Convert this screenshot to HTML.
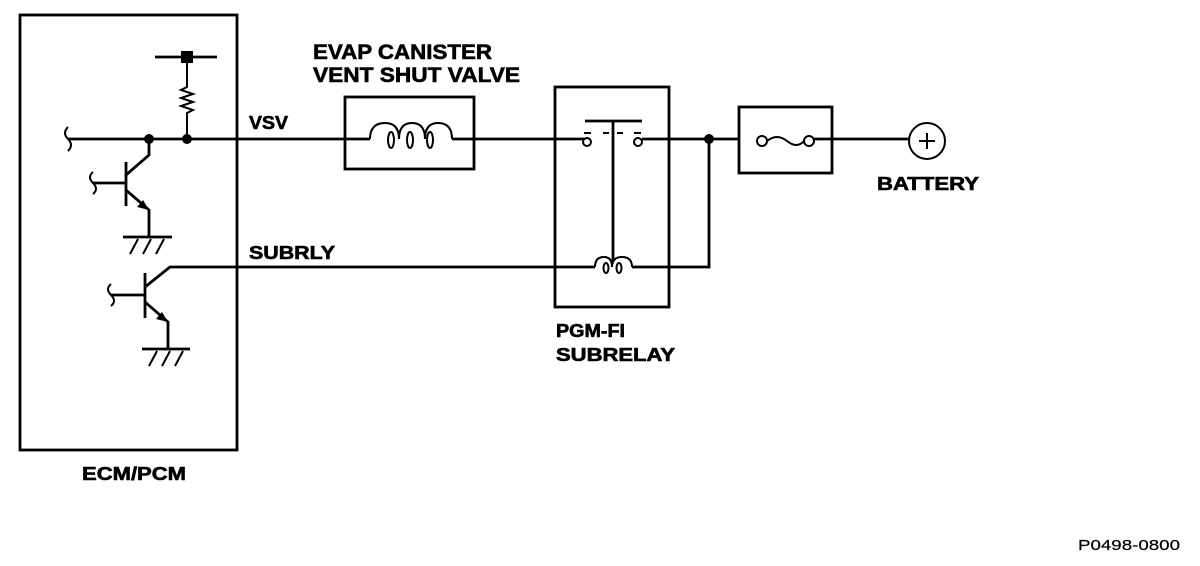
<!DOCTYPE html>
<html><head><style>body{margin:0;background:#fff}svg{display:block}text{font-family:"Liberation Sans",Arial,sans-serif;font-weight:bold;fill:#000;stroke:#000;stroke-width:0.6}</style></head>
<body>
<svg width="1200" height="566" viewBox="0 0 1200 566" xmlns="http://www.w3.org/2000/svg">
<g stroke="#000" stroke-width="2.8" fill="none">
<rect x="20" y="15" width="217" height="435"/>
<line x1="68" y1="139" x2="345" y2="139"/>
<path d="M68 127 q-6 6 0 12 q6 6 0 12" stroke-width="2"/>
<line x1="155" y1="57" x2="217" y2="57"/>
<path d="M187 57 V87 l-6 3 l12 4 l-12 4 l12 4 l-12 4 l12 4 l-6 3 V139" stroke-width="2"/>
<line x1="126" y1="162" x2="126" y2="206"/>
<line x1="93" y1="183" x2="126" y2="183"/>
<path d="M93 172 q-6 5 0 11 q6 6 0 11" stroke-width="2"/>
<path d="M126 175 L149 155 V139"/>
<path d="M126 190 L149 210 V237"/>
<line x1="123" y1="237" x2="172" y2="237"/>
<path d="M130 254 l8 -15 M143 254 l8 -15 M156 254 l8 -15" stroke-width="2"/>
<line x1="145" y1="273" x2="145" y2="318"/>
<line x1="111" y1="295" x2="145" y2="295"/>
<path d="M111 284 q-6 5 0 11 q6 6 0 11" stroke-width="2"/>
<path d="M145 287 L170 267 H595"/>
<path d="M145 302 L168 322 V349"/>
<line x1="142" y1="349" x2="190" y2="349"/>
<path d="M149 366 l8 -15 M162 366 l8 -15 M175 366 l8 -15" stroke-width="2"/>
<rect x="345" y="97" width="129" height="72"/>
<path d="M370 139 q0 -16 15 -16 q14 0 14 16 q0 -16 13 -16 q13 0 13 16 q0 -16 13 -16 q14 0 14 16" stroke-width="2"/>
<ellipse cx="391" cy="140" rx="3" ry="8" stroke-width="2"/>
<ellipse cx="410" cy="140" rx="3" ry="8" stroke-width="2"/>
<ellipse cx="430" cy="140" rx="3" ry="8" stroke-width="2"/>
<line x1="370" y1="139" x2="345" y2="139"/>
<line x1="452" y1="139" x2="584" y2="139"/>
<rect x="555" y="87" width="114" height="220"/>
<circle cx="587" cy="142" r="4" stroke-width="2"/>
<circle cx="638" cy="142" r="4" stroke-width="2"/>
<line x1="585" y1="121" x2="642" y2="121"/>
<line x1="613" y1="121" x2="613" y2="262"/>
<path d="M584 133 h7 M603 133 h6 M617 133 h6 M634 133 h7" stroke-width="2"/>
<line x1="642" y1="139" x2="739" y2="139"/>
<path d="M595 267 q0 -10 9 -10 q8 0 8 10 q0 -10 10 -10 q10 0 10 10" stroke-width="2"/>
<ellipse cx="606" cy="268" rx="2.5" ry="5" stroke-width="2"/>
<ellipse cx="619" cy="268" rx="2.5" ry="5" stroke-width="2"/>
<path d="M632 267 H709 V139"/>
<rect x="739" y="107" width="93" height="66"/>
<circle cx="762" cy="141" r="5" stroke-width="2"/>
<circle cx="809" cy="141" r="5" stroke-width="2"/>
<path d="M767 141 q10 -8 20 0 q10 8 17 0" stroke-width="2"/>
<line x1="814" y1="139" x2="909" y2="139"/>
<circle cx="927" cy="141" r="18" stroke-width="2"/>
<path d="M919 141 h16 M927 133 v16" stroke-width="2"/>
</g>
<g fill="#000">
<circle cx="149" cy="139" r="5"/>
<circle cx="187" cy="139" r="5"/>
<rect x="181" y="51" width="12" height="12"/>
<circle cx="709" cy="139" r="5"/>
<path d="M149 210 l-12 -3 l6 -7 z"/>
<path d="M168 322 l-12 -3 l6 -7 z"/>
</g>
<text x="313" y="59" font-size="21" textLength="179" lengthAdjust="spacingAndGlyphs">EVAP CANISTER</text>
<text x="313" y="82" font-size="21" textLength="207" lengthAdjust="spacingAndGlyphs">VENT SHUT VALVE</text>
<text x="249" y="129" font-size="18" textLength="39" lengthAdjust="spacingAndGlyphs">VSV</text>
<text x="249" y="259" font-size="18" textLength="86" lengthAdjust="spacingAndGlyphs">SUBRLY</text>
<text x="877" y="190" font-size="18" textLength="102" lengthAdjust="spacingAndGlyphs">BATTERY</text>
<text x="556" y="337" font-size="18" textLength="69" lengthAdjust="spacingAndGlyphs">PGM-FI</text>
<text x="556" y="361" font-size="18" textLength="119" lengthAdjust="spacingAndGlyphs">SUBRELAY</text>
<text x="82" y="480" font-size="18" textLength="104" lengthAdjust="spacingAndGlyphs">ECM/PCM</text>
<text x="1078" y="550" font-size="15" style="font-weight:normal;stroke-width:0.2" textLength="102" lengthAdjust="spacingAndGlyphs">P0498-0800</text>
</svg>
</body></html>
